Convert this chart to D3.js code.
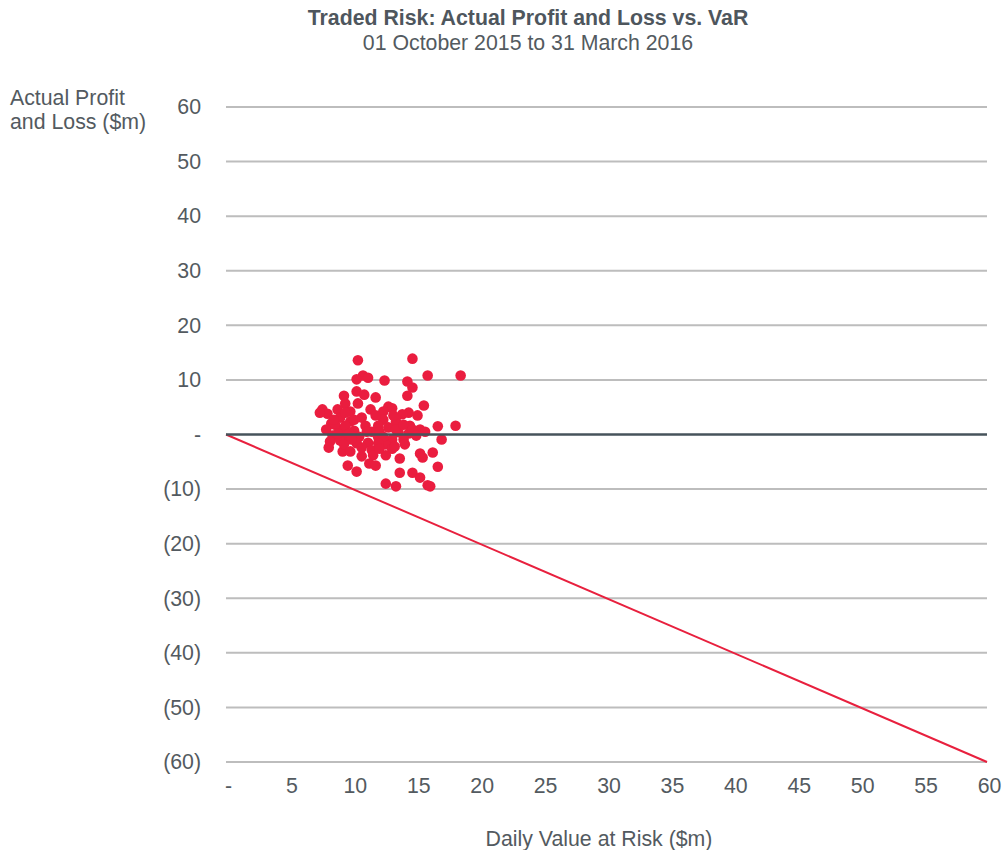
<!DOCTYPE html>
<html><head><meta charset="utf-8">
<script src="https://cdn.jsdelivr.net/npm/d3@7"></script>
<style>body{margin:0;background:#fff;} text{font-family:"Liberation Sans",Arial,sans-serif;}</style>
</head><body>
<svg id="c" width="1005" height="850"></svg>
<script>
const titleText = "Traded Risk: Actual Profit and Loss vs. VaR";
const subtitleText = "01 October 2015 to 31 March 2016";
const xTicks = [0,5,10,15,20,25,30,35,40,45,50,55,60];
const yTicks = [60,50,40,30,20,10,0,-10,-20,-30,-40,-50,-60];
const varValues = [10.4,14.7,18.5,15.9,10.8,11.2,10.3,12.5,14.3,14.7,10.3,9.3,10.9,11.8,14.3,10.4,9.4,15.6,12.8,13.1,7.6,8.0,7.4,8.8,9.8,11.4,12.4,14.4,15.1,13.9,9.0,10.7,12.4,13.4,9.8,8.3,11.0,12.0,14.5,18.1,16.7,12.8,7.9,9.1,10.1,11.5,15.3,15.7,13.6,14.4,8.4,9.5,10.5,12.0,13.1,14.0,17.0,8.2,9.0,10.3,11.2,12.6,14.1,8.1,9.2,11.5,13.1,15.3,16.3,10.7,11.6,12.6,13.7,15.5,11.3,11.8,9.6,16.7,10.3,13.7,14.7,15.3,12.6,13.4,15.9,16.1,8.6,9.4,9.7,8.8,11.1,12.1,12.4,9.9,9.3,10.7,12.0,13.4,14.0,13.2,11.8,10.1,9.4,8.5,14.7,15.0,13.3,12.1,9.8];
const pnlValues = [13.6,13.9,10.8,10.8,10.8,10.4,10.1,9.9,9.7,8.6,7.9,7.1,7.3,6.8,7.1,5.7,5.7,5.3,5.1,4.8,4.6,3.8,4.0,4.6,4.2,4.6,4.2,4.0,3.5,3.7,3.1,3.1,2.7,2.4,2.4,2.0,1.6,1.6,1.6,1.6,1.5,1.3,0.9,0.9,0.7,0.5,0.9,0.5,0.4,0.2,-0.2,-0.5,-0.4,-0.5,-0.9,-0.9,-0.9,-1.3,-1.1,-1.6,-1.5,-1.8,-1.8,-2.4,-3.1,-2.9,-2.6,-3.5,-3.3,-4.0,-3.8,-3.8,-4.4,-4.2,-5.3,-5.7,-5.7,-5.9,-6.8,-7.0,-7.0,-7.9,-9.0,-9.5,-9.3,-9.5,1.8,1.6,0.2,0.2,0.5,0.5,-0.4,-0.9,-1.8,-2.4,-1.6,0.9,1.8,3.5,3.5,2.7,4.0,2.7,0.9,-0.2,-2.2,-2.6,-3.1];
const lineVar = [0,60];
const lineLoss = [0,-60];

const svg = d3.select("#c");
const x = d3.scaleLinear().domain([0,60]).range([226,987]);
const y = d3.scaleLinear().domain([-60,60]).range([762,107]);
const txtCol = "#535a60";
const fs = 21.3;
const fmtY = v => v===0 ? "-" : (v<0 ? "(" + Math.abs(v) + ")" : String(v));
const fmtX = v => v===0 ? "-" : String(v);

svg.append("text").attr("x",528).attr("y",25).attr("text-anchor","middle")
  .attr("font-size",fs).attr("font-weight","bold").attr("fill","#4e565d").text(titleText);
svg.append("text").attr("x",528).attr("y",50).attr("text-anchor","middle")
  .attr("font-size",fs).attr("fill",txtCol).text(subtitleText);

const yAxis = d3.axisLeft(y).tickValues(yTicks).tickSize(0).tickPadding(0).tickFormat(fmtY);
const gy = svg.append("g").attr("transform","translate(201,0)").call(yAxis);
gy.select(".domain").remove();
gy.selectAll("text").attr("font-size",fs).attr("fill",txtCol).attr("font-family","Liberation Sans, Arial, sans-serif");

svg.append("g").selectAll("line").data(yTicks.filter(d=>d!==0)).join("line")
  .attr("x1",x(0)).attr("x2",x(60)).attr("y1",d=>y(d)).attr("y2",d=>y(d))
  .attr("stroke","#bdbdbd").attr("stroke-width",2);

const xAxis = d3.axisBottom(x).tickValues(xTicks).tickSize(0).tickPadding(0).tickFormat(fmtX);
const gx = svg.append("g").attr("transform","translate(2,778)").call(xAxis);
gx.select(".domain").remove();
gx.selectAll("text").attr("font-size",fs).attr("fill",txtCol).attr("font-family","Liberation Sans, Arial, sans-serif");

svg.append("text").attr("x",599).attr("y",846).attr("text-anchor","middle")
  .attr("font-size",fs).attr("fill",txtCol).text("Daily Value at Risk ($m)");
svg.append("text").attr("x",10).attr("y",105).attr("font-size",fs).attr("fill",txtCol).text("Actual Profit");
svg.append("text").attr("x",10).attr("y",129).attr("font-size",fs).attr("fill",txtCol).text("and Loss ($m)");

svg.append("line").attr("x1",x(lineVar[0])).attr("y1",y(lineLoss[0])).attr("x2",x(lineVar[1])).attr("y2",y(lineLoss[1]))
  .attr("stroke","#e8203e").attr("stroke-width",2);

const pts = varValues.map((v,i)=>({v, p:pnlValues[i]}));
svg.append("g").selectAll("circle").data(pts).join("circle")
  .attr("cx",d=>x(d.v)).attr("cy",d=>y(d.p)).attr("r",5.3).attr("fill","#ea1d3f");

svg.append("line").attr("x1",x(0)).attr("x2",x(60)).attr("y1",y(0)).attr("y2",y(0))
  .attr("stroke","#46535b").attr("stroke-width",2.5);
</script>
</body></html>
